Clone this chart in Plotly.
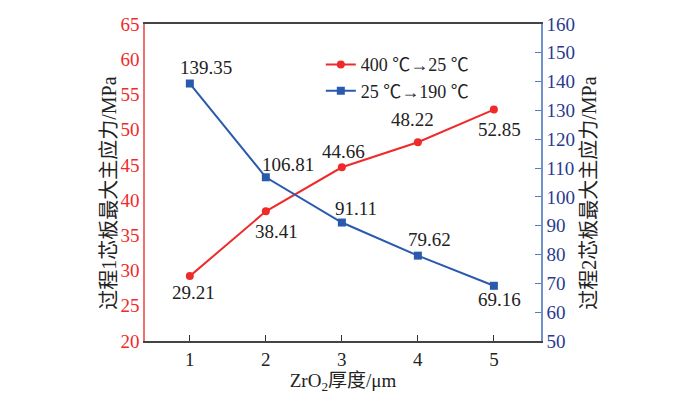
import plotly.graph_objects as go

thickness = [1, 2, 3, 4, 5]
stress_p1 = [29.21, 38.41, 44.66, 48.22, 52.85]
stress_p2 = [139.35, 106.81, 91.11, 79.62, 69.16]
name_p1 = "400 ℃→25 ℃"
name_p2 = "25 ℃→190 ℃"
title_y1 = "过程1芯板最大主应力/MPa"
title_y2 = "过程2芯板最大主应力/MPa"
title_x = "ZrO<sub>2</sub>厚度/μm"

# label offsets (px) for the value labels (dx right, dy up)
off_p1 = [(4, -16), (11, -20), (2, 16), (-5, 23), (6, -20)]
off_p2 = [(16, 16), (22, 13), (14, 14), (12, 16), (6, -14)]

RED = "#ef2a2a"
BLUE = "#2a5aae"
SERIF = "Liberation Serif, Times New Roman, Noto Sans CJK SC, serif"

fig = go.Figure()
fig.add_trace(go.Scatter(x=thickness, y=stress_p1, name=name_p1, mode="lines+markers",
                         line=dict(color=RED, width=2), marker=dict(symbol="circle", size=8, color=RED)))
fig.add_trace(go.Scatter(x=thickness, y=stress_p2, name=name_p2, mode="lines+markers", yaxis="y2",
                         line=dict(color=BLUE, width=2), marker=dict(symbol="square", size=8, color=BLUE)))

for xv, yv, (dx, dy) in zip(thickness, stress_p1, off_p1):
    fig.add_annotation(x=xv, y=yv, text=f"{yv:.2f}", showarrow=False, xshift=dx, yshift=dy,
                       font=dict(family=SERIF, size=19, color="#222"))
for xv, yv, (dx, dy) in zip(thickness, stress_p2, off_p2):
    fig.add_annotation(x=xv, y=yv, yref="y2", text=f"{yv:.2f}", showarrow=False, xshift=dx, yshift=dy,
                       font=dict(family=SERIF, size=19, color="#222"))

# axis titles as rotated annotations
fig.add_annotation(x=-0.093, y=0.465, xref="paper", yref="paper", text=title_y1, textangle=-90,
                   showarrow=False, xanchor="center", yanchor="middle",
                   font=dict(family=SERIF, size=20, color="#222"))
fig.add_annotation(x=1.119, y=0.465, xref="paper", yref="paper", text=title_y2, textangle=-90,
                   showarrow=False, xanchor="center", yanchor="middle",
                   font=dict(family=SERIF, size=20, color="#222"))

fig.update_layout(
    width=700, height=396,
    margin=dict(l=145, r=159, t=24, b=55, autoexpand=False),
    paper_bgcolor="white", plot_bgcolor="white",
    font=dict(family=SERIF, color="#222"),
    hovermode=False,
    showlegend=True,
    legend=dict(x=0.444, y=0.93, xanchor="left", yanchor="top", bgcolor="rgba(0,0,0,0)",
                font=dict(family=SERIF, size=18, color="#222"), tracegroupgap=0, itemwidth=30),
    xaxis=dict(range=[0.41, 5.62], tickvals=thickness, ticks="inside", ticklen=6, tickcolor="#333",
               showgrid=False, zeroline=False, showline=True, linecolor="#444", linewidth=1.5, mirror=True,
               automargin=False,
               tickfont=dict(family=SERIF, size=19, color="#222"),
               title=dict(text=title_x, font=dict(family=SERIF, size=19, color="#222"), standoff=2)),
    yaxis=dict(range=[20, 65], dtick=5, showgrid=False, zeroline=False, showline=True, automargin=False,
               linecolor="#f07070", linewidth=1.5, ticks="",
               tickfont=dict(family=SERIF, size=19, color=RED)),
    yaxis2=dict(range=[50, 160], dtick=10, overlaying="y", side="right", showgrid=False, zeroline=False,
                showline=True, automargin=False, linecolor="#7090d0", linewidth=1.5, ticks="inside", ticklen=6,
                tickcolor="#5a7ac0", ticklabelstandoff=0,
                tickfont=dict(family=SERIF, size=19, color="#2a3a90")),
)

fig.write_html("out.html", config={"displayModeBar": False},
               post_script="document.body.style.margin='0';document.body.style.overflow='hidden';")
